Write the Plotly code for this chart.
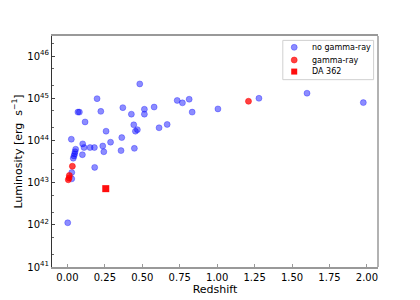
import plotly.graph_objects as go

# no gamma-ray sources
z_no = [0.483, 0.198, 0.370, 0.514, 0.579, 0.070, 0.080, 0.223, 0.427, 0.514,
        0.118, 0.443, 0.467, 0.454, 0.258, 0.363, 0.026, 0.288, 0.102, 0.111,
        0.151, 0.180, 0.236, 0.243, 0.358, 0.447, 0.055, 0.051, 0.044, 0.039,
        0.048, 0.100, 0.182, 0.029, 0.029, 0.002, 0.733, 0.768, 0.813, 0.833,
        1.005, 1.279, 1.600, 1.976, 0.612, 0.666]
L_no = [2.19e45, 9.8e44, 6.0e44, 5.5e44, 6.2e44, 4.7e44, 4.7e44, 4.9e44, 4.2e44, 4.2e44,
        2.75e44, 2.35e44, 1.8e44, 1.66e44, 1.66e44, 1.17e44, 1.07e44, 9.1e43, 8.3e43, 6.8e43,
        6.8e43, 6.8e43, 7.4e43, 5.4e43, 5.75e43, 6.5e43, 6.2e43, 5.4e43, 4.3e43, 3.8e43,
        4.8e43, 4.6e43, 2.3e43, 1.74e43, 1.23e43, 1.12e42, 8.9e44, 7.8e44, 9.5e44, 4.7e44,
        5.6e44, 1.0e45, 1.32e45, 7.9e44, 2.0e44, 2.4e44]

# gamma-ray sources
z_g = [0.033, 0.013, 0.011, 0.006, 1.209]
L_g = [2.45e43, 1.48e43, 1.29e43, 1.17e43, 8.5e44]

# DA 362
z_da = [0.256]
L_da = [7.2e42]

x_ticks = [0, 0.25, 0.5, 0.75, 1.0, 1.25, 1.5, 1.75, 2.0]
y_exps = [41, 42, 43, 44, 45, 46]
legend_labels = ["no gamma-ray", "gamma-ray", "DA 362"]

BLUE = "rgba(0,0,255,0.45)"
BLUE_EDGE = "rgba(0,0,255,0.3)"
RED = "rgba(255,0,0,0.75)"
RED_EDGE = "rgba(255,0,0,0.5)"
SQ = "rgba(255,0,0,0.95)"

fig = go.Figure()
fig.add_trace(go.Scatter(x=z_no, y=L_no, mode="markers", name=legend_labels[0],
                         marker=dict(size=6, color=BLUE, line=dict(width=1, color=BLUE_EDGE))))
fig.add_trace(go.Scatter(x=z_g, y=L_g, mode="markers", name=legend_labels[1],
                         marker=dict(size=6, color=RED, line=dict(width=1, color=RED_EDGE))))
fig.add_trace(go.Scatter(x=z_da, y=L_da, mode="markers", name=legend_labels[2],
                         marker=dict(size=7, symbol="square", color=SQ, line=dict(width=0))))

# manual compact legend (matplotlib-like)
shapes = [
    dict(type="line", xref="paper", yref="paper", x0=1, x1=1, y0=0, y1=1,
         line=dict(color="#999999", width=1.5)),
    dict(type="rect", xref="paper", yref="paper", x0=0.708, x1=0.9865, y0=0.811, y1=0.981,
         line=dict(color="#d0d0d0", width=1), fillcolor="rgba(255,255,255,0.8)"),
]
leg_y = [0.951, 0.896, 0.846]
leg_style = [("circle", BLUE, BLUE_EDGE, 3), ("circle", RED, RED_EDGE, 3), ("rect", SQ, SQ, 3)]
annotations = []
for yy, (kind, fc, lc, r), lab in zip(leg_y, leg_style, legend_labels):
    shapes.append(dict(type=kind, xref="paper", yref="paper",
                       xsizemode="pixel", ysizemode="pixel",
                       xanchor=0.743, yanchor=yy, x0=-r, x1=r, y0=-r, y1=r,
                       fillcolor=fc, line=dict(color=lc, width=1 if kind == "circle" else 0)))
    annotations.append(dict(xref="paper", yref="paper", x=0.791, y=yy, xanchor="left",
                            yanchor="middle", text=lab, showarrow=False,
                            font=dict(size=8, color="black")))

fig.update_layout(
    width=412, height=292,
    margin=dict(l=44, r=42, t=28, b=33),
    paper_bgcolor="white", plot_bgcolor="white",
    font=dict(family="DejaVu Sans", size=10, color="black"),
    showlegend=False,
    xaxis=dict(range=[-0.103, 2.074], tickvals=x_ticks,
               ticktext=["%.2f" % v for v in x_ticks],
               ticks="inside", ticklen=3, tickcolor="#999999",
               showline=True, linecolor="#999999", linewidth=1.5, mirror=True,
               showgrid=False, zeroline=False, automargin=False,
               title=dict(text="Redshift", font=dict(size=11), standoff=0)),
    yaxis=dict(type="log", range=[41, 46.477],
               tickvals=[float(10.0 ** e) for e in y_exps],
               ticktext=["10<sup>%d</sup>" % e for e in y_exps],
               ticks="inside", ticklen=3, tickcolor="#444444",
               minor=dict(ticks="inside", ticklen=1.5, tickcolor="#666666", showgrid=False),
               showline=True, linecolor="#333333", linewidth=1,
               showgrid=False, zeroline=False, automargin=False,
               title=dict(text="Luminosity [erg  s<sup>\u22121</sup>]", font=dict(size=11), standoff=2)),
    shapes=shapes,
    annotations=annotations,
)

fig.write_html("out.html")
